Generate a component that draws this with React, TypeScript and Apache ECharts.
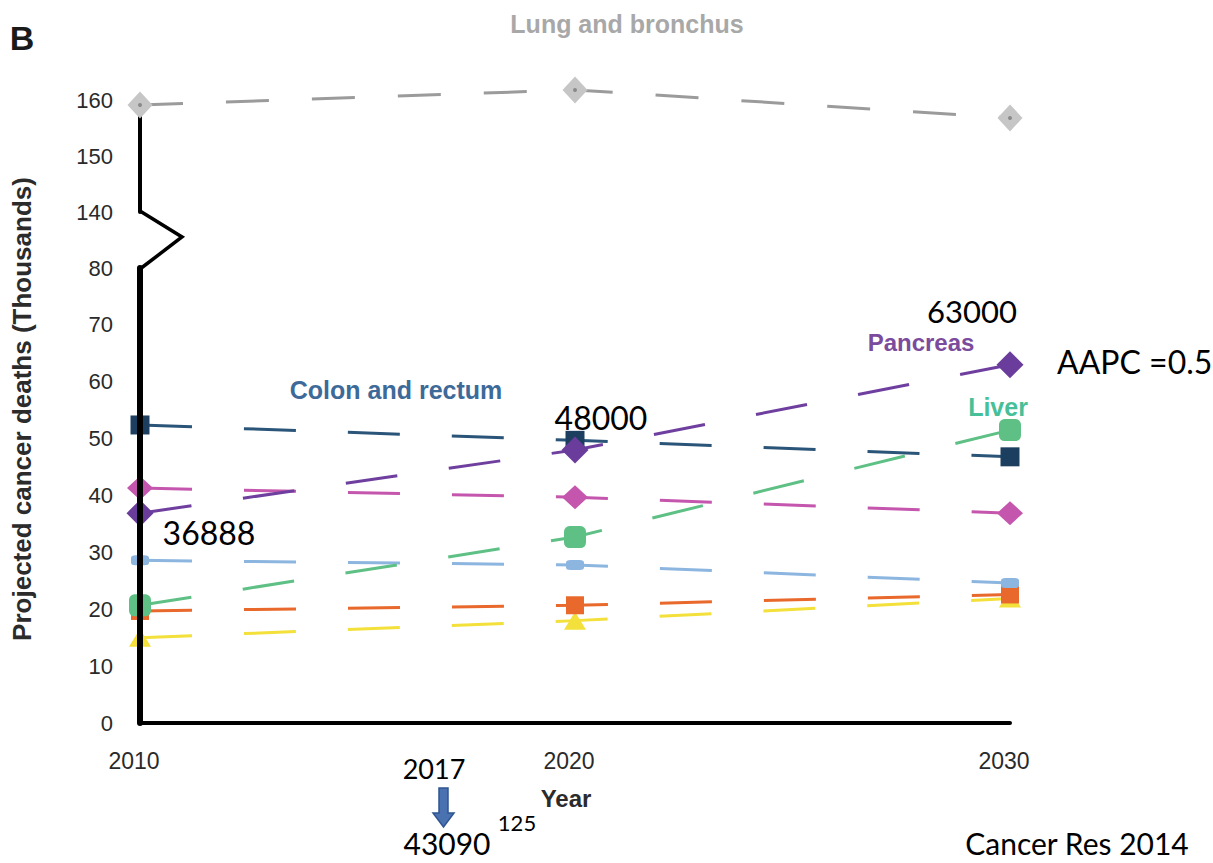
import React, { useEffect, useRef } from "react";
import * as echarts from "echarts";

// Projection years on the x axis
const years = [2010, 2020, 2030];

// Projected deaths, thousands
const lungBronchus = [159.1, 161.8, 156.8];
const colonRectum = [52.4, 49.7, 46.8];
const pancreas = [36.888, 48.0, 63.0];
const pinkSeries = [41.3, 39.7, 36.9];
const liver = [20.7, 32.7, 51.5];
const lightBlueSeries = [28.6, 27.8, 24.6];
const orangeSeries = [19.7, 20.7, 22.6];
const yellowSeries = [15.0, 18.0, 21.9];

// Axis ranges (broken axis: lower and upper panels)
const lowerRange = [0, 80];
const upperRange = [140, 160];
const yStep = 10;

const SANS = "'Liberation Sans', Arial, Helvetica, sans-serif";
const NOTE = "Lato, 'Open Sans', sans-serif";

const pts = (vals: number[]) => years.map((y, i) => [y, vals[i]]);

type SeriesDef = {
  name: string;
  values: number[];
  color: string;
  lineColor?: string;
  symbol: string;
  symbolSize: number | number[];
};

// Drawing order matters where markers overlap
const lowerSeries: SeriesDef[] = [
  { name: "yellow", values: yellowSeries, color: "#f3e03a", symbol: "triangle", symbolSize: [22, 18] },
  { name: "orange", values: orangeSeries, color: "#e8692b", symbol: "rect", symbolSize: 18 },
  { name: "lightblue", values: lightBlueSeries, color: "#8cb6e0", symbol: "roundRect", symbolSize: [18, 10] },
  { name: "Liver", values: liver, color: "#5ec084", symbol: "roundRect", symbolSize: 22 },
  { name: "pink", values: pinkSeries, color: "#c556ad", symbol: "diamond", symbolSize: [26, 24] },
  { name: "Colon and rectum", values: colonRectum, color: "#1d3f5f", lineColor: "#2a5478", symbol: "rect", symbolSize: 19 },
  { name: "Pancreas", values: pancreas, color: "#6a3c9b", lineColor: "#6f3f9f", symbol: "diamond", symbolSize: 27 },
];

function txt(
  text: string,
  x: number,
  y: number,
  size: number,
  opts: { bold?: boolean; color?: string; align?: string; family?: string; rotation?: number; lh?: number } = {}
) {
  return {
    type: "text",
    x,
    y,
    rotation: opts.rotation || 0,
    z: 20,
    style: {
      text,
      fontSize: size,
      lineHeight: opts.lh || Math.round(size * 0.9),
      fontWeight: opts.bold ? "bold" : "normal",
      fontFamily: opts.family || SANS,
      fill: opts.color || "#000",
      align: opts.align || "center",
      verticalAlign: "middle",
    },
  };
}

export default function App() {
  const ref = useRef<HTMLDivElement>(null);

  useEffect(() => {
    if (!ref.current) return;
    const chart = echarts.init(ref.current, null, { renderer: "svg" });

    const axisLabelStyle = { fontSize: 22, color: "#2a2a2a", fontFamily: SANS };

    const series: any[] = lowerSeries.map((s) => ({
      name: s.name,
      type: "line",
      xAxisIndex: 0,
      yAxisIndex: 0,
      data: pts(s.values),
      symbol: s.symbol,
      symbolSize: s.symbolSize,
      showSymbol: true,
      clip: false,
      itemStyle: { color: s.color },
      lineStyle: { color: s.lineColor || s.color, width: 3, type: [52, 52], dashOffset: 0 },
      emphasis: { disabled: true },
    }));

    series.push({
      name: "Lung and bronchus",
      type: "line",
      xAxisIndex: 1,
      yAxisIndex: 1,
      data: pts(lungBronchus),
      symbol: "diamond",
      symbolSize: [25, 27],
      clip: false,
      itemStyle: { color: "#c6c6c6" },
      lineStyle: { color: "#9b9b9b", width: 3, type: [43, 43], dashOffset: 0 },
      emphasis: { disabled: true },
    });
    // small dark centre dot on each lung marker
    series.push({
      type: "scatter",
      xAxisIndex: 1,
      yAxisIndex: 1,
      data: pts(lungBronchus),
      symbol: "circle",
      symbolSize: 4,
      clip: false,
      z: 5,
      itemStyle: { color: "#7a7a7a" },
      emphasis: { disabled: true },
    });

    const staticGraphics: any[] = [
      txt("B", 22, 38, 34, { bold: true, color: "#1a1a1a" }),
      txt("Lung and bronchus", 627, 24, 25, { bold: true, color: "#a8a8a8" }),
      txt("Colon and rectum", 396, 390, 25, { bold: true, color: "#3d6a98" }),
      txt("Pancreas", 921, 342, 24, { bold: true, color: "#7b4b9d" }),
      txt("Liver", 998, 407, 25, { bold: true, color: "#47bf98" }),
      txt("Projected cancer deaths (Thousands)", 22, 409, 26, {
        bold: true,
        color: "#2b2b2b",
        rotation: Math.PI / 2,
      }),
      txt("Year", 566, 798, 24, { bold: true, color: "#2b2b2b" }),
      txt("36888", 209, 532, 32, { family: NOTE }),
      txt("48000", 601, 417, 32, { family: NOTE }),
      txt("63000", 972, 311, 31, { family: NOTE, lh: 26 }),
      txt("AAPC =0.5", 1057, 361, 32, { family: NOTE, align: "left" }),
      txt("2017", 434, 768, 27, { family: NOTE }),
      txt("43090", 447, 843, 30, { family: NOTE, lh: 26 }),
      txt("125", 517, 822, 22, { family: NOTE }),
      txt("Cancer Res 2014", 1077, 843, 30, { family: NOTE, lh: 26 }),
      {
        type: "polygon",
        z: 20,
        shape: {
          points: [
            [439, 788],
            [448, 788],
            [448, 813],
            [454, 813],
            [443.5, 827],
            [433, 813],
            [439, 813],
          ],
        },
        style: { fill: "#4a72b0", stroke: "#2f5590", lineWidth: 1.5 },
      },
    ];

    chart.setOption({
      animation: false,
      backgroundColor: "#ffffff",
      grid: [
        { left: 140, top: 268, width: 870, height: 455 },
        { left: 140, top: 100, width: 870, height: 112 },
      ],
      xAxis: [
        {
          gridIndex: 0,
          type: "value",
          min: years[0],
          max: years[years.length - 1],
          interval: 10,
          axisLine: { show: true, lineStyle: { color: "#000", width: 4 } },
          axisTick: { show: false },
          splitLine: { show: false },
          axisLabel: {
            ...axisLabelStyle,
            fontSize: 23,
            margin: 26,
            padding: [0, 12, 0, 0],
            formatter: (v: number) => String(v),
          },
        },
        {
          gridIndex: 1,
          type: "value",
          min: years[0],
          max: years[years.length - 1],
          show: false,
        },
      ],
      yAxis: [
        {
          gridIndex: 0,
          type: "value",
          min: lowerRange[0],
          max: lowerRange[1],
          interval: yStep,
          z: 10,
          axisLine: { show: true, lineStyle: { color: "#000", width: 6 } },
          axisTick: { show: false },
          splitLine: { show: false },
          axisLabel: { ...axisLabelStyle, margin: 27 },
        },
        {
          gridIndex: 1,
          type: "value",
          min: upperRange[0],
          max: upperRange[1],
          interval: yStep,
          axisLine: { show: true, lineStyle: { color: "#000", width: 4 } },
          axisTick: { show: false },
          splitLine: { show: false },
          axisLabel: { ...axisLabelStyle, margin: 27 },
        },
      ],
      series,
      graphic: staticGraphics,
    });

    // Zig-zag break joining the two axis panels
    const x0 = chart.convertToPixel({ xAxisIndex: 0 } as any, years[0]) as number;
    const yTop = chart.convertToPixel({ yAxisIndex: 1 } as any, upperRange[0]) as number;
    const yBot = chart.convertToPixel({ yAxisIndex: 0 } as any, lowerRange[1]) as number;
    const mid = (yTop + yBot) / 2 - 3;
    chart.setOption({
      graphic: [
        ...staticGraphics,
        {
          type: "polyline",
          z: 20,
          shape: {
            points: [
              [x0, yTop - 1],
              [x0 + 42, mid],
              [x0, yBot + 1],
            ],
          },
          style: { stroke: "#000", lineWidth: 3.5, fill: "none", lineJoin: "miter" },
        },
      ],
    });

    return () => chart.dispose();
  }, []);

  return (
    <div
      ref={ref}
      style={{ position: "absolute", left: 0, top: 0, width: 1213, height: 863, background: "#fff" }}
    />
  );
}
